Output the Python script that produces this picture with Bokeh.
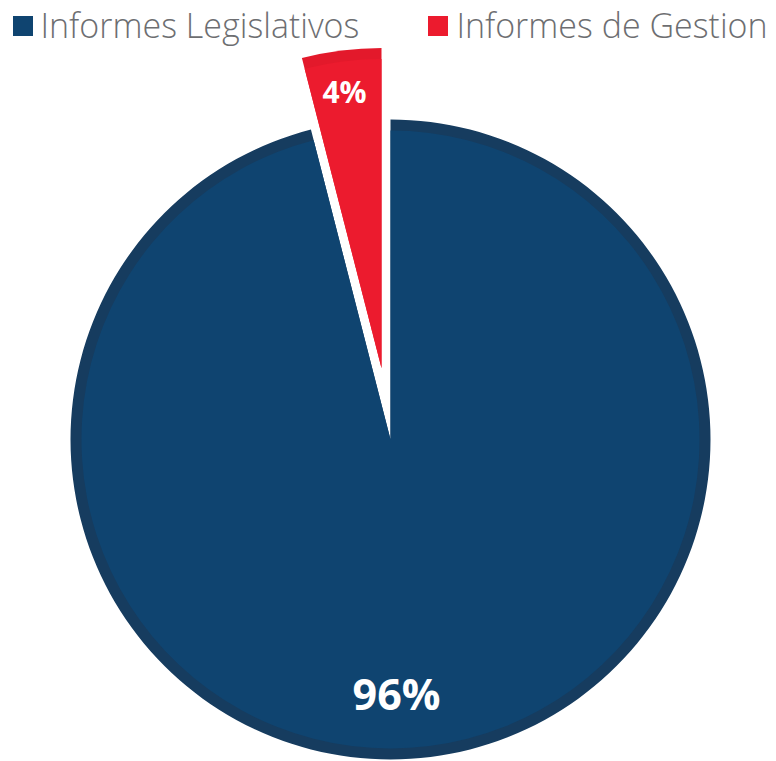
import math
from bokeh.plotting import figure
from bokeh.models import Range1d, Legend, LegendItem, ColumnDataSource
from bokeh.core.properties import value
from bokeh.embed import file_html
from bokeh.resources import INLINE

# ---- data ----
categories = ["Informes Legislativos", "Informes de Gestion"]
shares = [96, 4]
pct_labels = ["96%", "4%"]

# ---- styles ----
fill_colors = ["#0f4470", "#ec1b2e"]
band_colors = ["#163c5f", "#e3192b"]
explode = [0, 72]                          # px offset along mid angle
label_offsets = [(6, -254), (-37, 277)]    # label position relative to slice centre (px)
label_sizes = ["43px", "30px"]

W, H = 776, 761
CX, CY = 390, 322
R = 320
BAND = 11

p = figure(width=W, height=H, output_backend="svg", toolbar_location=None,
           x_range=Range1d(0, W), y_range=Range1d(0, H), min_border=0,
           background_fill_color="white", outline_line_color=None)
p.axis.visible = False
p.grid.visible = False

total = float(sum(shares))
starts, ends, xs, ys, lx, ly = [], [], [], [], [], []
cum = 0.0
for s, e, (dx, dy) in zip(shares, explode, label_offsets):
    a0 = math.pi / 2 - 2 * math.pi * cum / total
    cum += s
    a1 = math.pi / 2 - 2 * math.pi * cum / total
    mid = (a0 + a1) / 2
    cx = CX + e * math.cos(mid)
    cy = CY + e * math.sin(mid)
    starts.append(a0); ends.append(a1); xs.append(cx); ys.append(cy)
    lx.append(cx + dx); ly.append(cy + dy)

src = ColumnDataSource(dict(x=xs, y=ys, start=starts, end=ends,
                            fill=fill_colors, band=band_colors,
                            cat=categories, lab=pct_labels,
                            lx=lx, ly=ly, size=label_sizes))

# outer band (darker rim)
p.wedge(x="x", y="y", radius=R, start_angle="start", end_angle="end",
        direction="clock", fill_color="band", line_color=None, source=src)
# main fill
main = p.wedge(x="x", y="y", radius=R - BAND, start_angle="start", end_angle="end",
               direction="clock", fill_color="fill", line_color=None, source=src)

p.text(x="lx", y="ly", text="lab", text_color="white", text_font=value("Open Sans"),
       text_font_style="bold", text_font_size="size", text_align="center",
       text_baseline="middle", source=src)

items = [LegendItem(label=cat, renderers=[main], index=i)
         for i, cat in enumerate(categories)]

LEG_H = 47
legend = Legend(items=items, orientation="horizontal", location=(9.5, H - 1 - LEG_H),
                glyph_width=25, glyph_height=25, label_standoff=6, spacing=66,
                padding=0, margin=0, border_line_color=None,
                background_fill_alpha=0,
                label_text_font="'Open Sans Light', 'Open Sans'",
                label_text_font_size="34px", label_text_color="#6d6e71")
p.add_layout(legend)

open("out.html", "w").write(file_html(p, INLINE))
